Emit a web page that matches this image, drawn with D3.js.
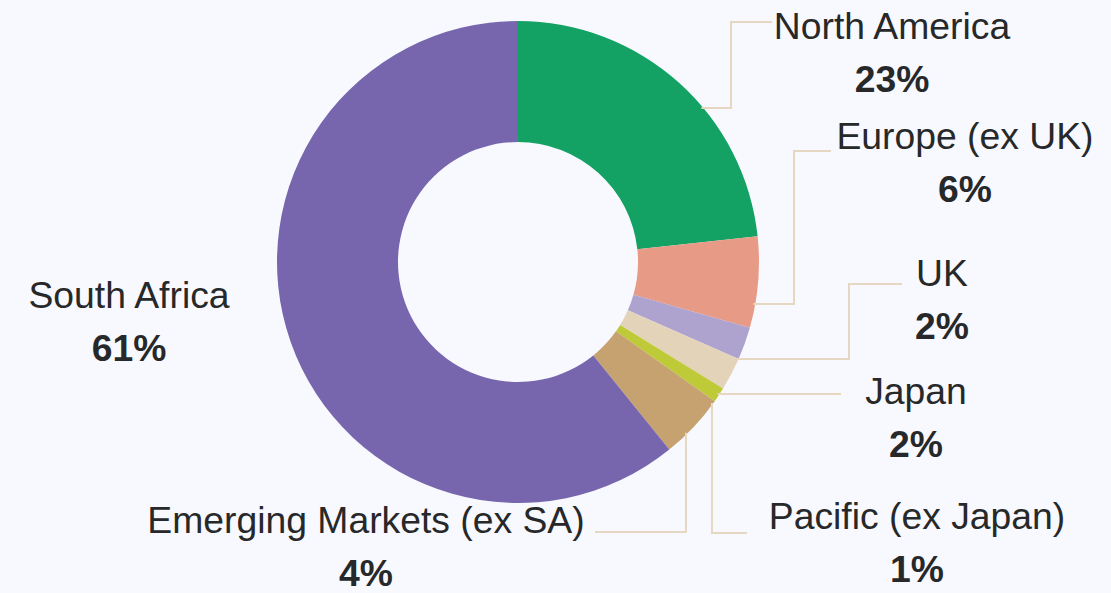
<!DOCTYPE html>
<html>
<head>
<meta charset="utf-8">
<script src="https://cdn.jsdelivr.net/npm/d3@7"></script>
<style>
  html, body { margin: 0; padding: 0; background: #f8f9fe; }
  svg { display: block; }
</style>
</head>
<body>
<div id="chart"></div>
<script>
// Regional allocation (clockwise from 12 o'clock)
const regions = ["North America", "Europe (ex UK)", "UK", "Japan", "Pacific (ex Japan)", "Emerging Markets (ex SA)", "South Africa"];
const shares = [23.3, 6.1, 2.2, 2.2, 1.0, 4.4, 60.8];
const shareLabels = ["23%", "6%", "2%", "2%", "1%", "4%", "61%"];
const colors = ["#13a264", "#e79b86", "#aea2cf", "#e3d3b8", "#bfca39", "#c6a270", "#7766ae"];

// Label layout: text centre, name baseline, connector path
// start: {y} = leave the arc horizontally at that height, {x} = leave it vertically
const labelLayout = [
  { cx: 892, y: 39, start: { y: 108 }, path: [[731, 108], [731, 22], [772, 22]] },
  { cx: 965, y: 149, start: { y: 304 }, path: [[794, 304], [794, 151], [831, 151]] },
  { cx: 942, y: 286, start: { y: 359 }, path: [[849, 359], [849, 284], [902, 284]] },
  { cx: 916, y: 404, start: { y: 394 }, path: [[841, 394]] },
  { cx: 917, y: 529, start: { x: 712 }, path: [[712, 533], [747, 533]] },
  { cx: 366, y: 533, start: { x: 686 }, path: [[686, 532], [595, 532]] },
  { cx: 129, y: 308, start: null, path: [] }
];

const width = 1111, height = 593;
const cx = 518, cy = 262, outerR = 241, innerR = 120;

const svg = d3.select("#chart")
  .append("svg")
  .attr("width", width)
  .attr("height", height);

svg.append("rect")
  .attr("width", width)
  .attr("height", height)
  .attr("fill", "#f8f9fe");

const data = regions.map((name, i) => ({ name, value: shares[i], label: shareLabels[i], color: colors[i], layout: labelLayout[i] }));

const pie = d3.pie().value(d => d.value).sort(null);
const arc = d3.arc().innerRadius(innerR).outerRadius(outerR);

const g = svg.append("g").attr("transform", `translate(${cx},${cy})`);

g.selectAll("path.slice")
  .data(pie(data))
  .join("path")
  .attr("class", "slice")
  .attr("d", arc)
  .attr("fill", d => d.data.color);

// connector lines
const line = d3.line();
data.forEach(d => {
  const s = d.layout.start;
  if (!s) return;
  let p0;
  if (s.y !== undefined) {
    const dy = s.y - cy;
    p0 = [cx + Math.sqrt(outerR * outerR - dy * dy) - 2, s.y];
  } else {
    const dx = s.x - cx;
    p0 = [s.x, cy + Math.sqrt(outerR * outerR - dx * dx) - 2];
  }
  svg.append("path")
    .attr("d", line([p0, ...d.layout.path]))
    .attr("fill", "none")
    .attr("stroke", "#e6d7c0")
    .attr("stroke-width", 2);
});

// labels
const labels = svg.selectAll("g.label")
  .data(data)
  .join("g")
  .attr("class", "label")
  .attr("transform", d => `translate(${d.layout.cx},${d.layout.y})`);

labels.append("text")
  .attr("text-anchor", "middle")
  .style("font-family", "'Liberation Sans', Arial, sans-serif")
  .style("font-size", "37.3px")
  .style("fill", "#272829")
  .text(d => d.name);

labels.append("text")
  .attr("y", 53)
  .attr("text-anchor", "middle")
  .style("font-family", "'Liberation Sans', Arial, sans-serif")
  .style("font-size", "37.3px")
  .style("font-weight", "bold")
  .style("fill", "#272829")
  .text(d => d.label);
</script>
</body>
</html>
